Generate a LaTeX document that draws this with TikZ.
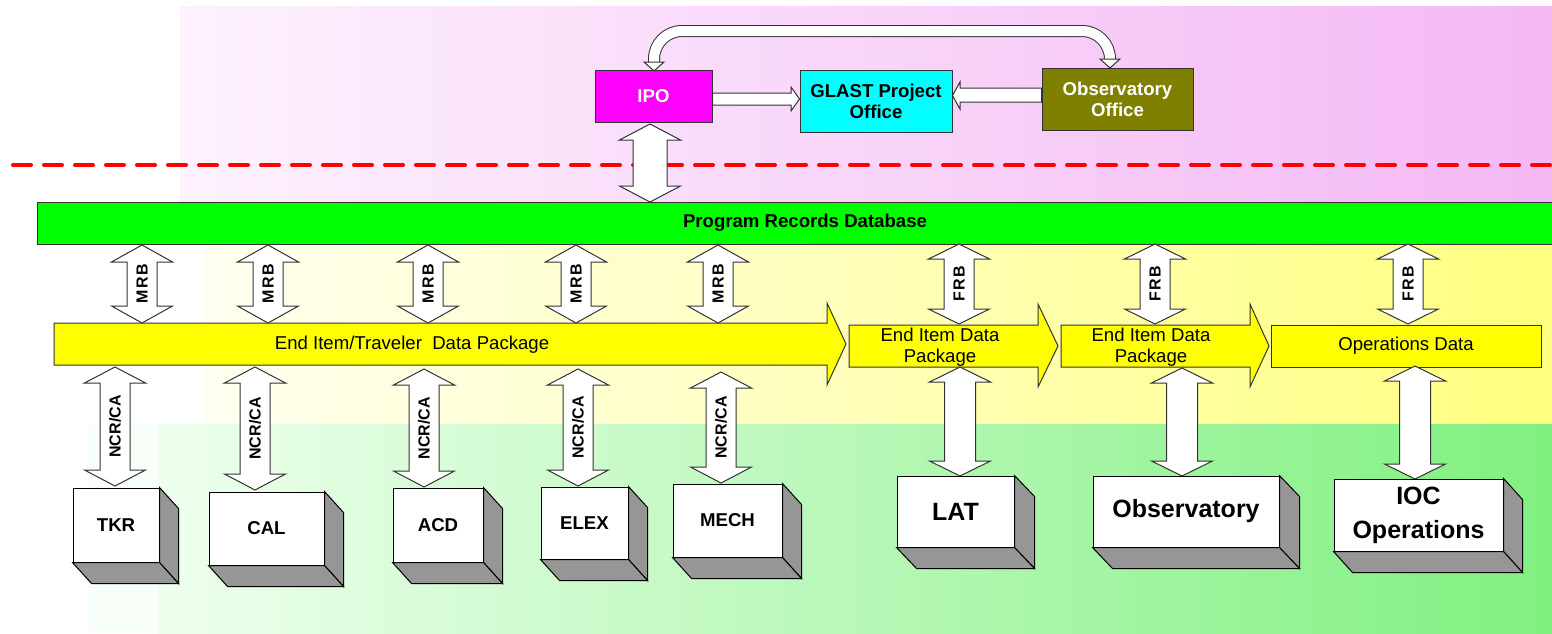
\documentclass[tikz,border=0pt]{standalone}
\usepackage{fontspec}
\setmainfont{Liberation Sans}
\usetikzlibrary{calc}
\definecolor{pinkL}{HTML}{FDF2FD}
\definecolor{pinkR}{HTML}{F4B8F4}
\definecolor{yelL}{HTML}{FFFFF0}
\definecolor{yelR}{HTML}{FFFF80}
\definecolor{grnL}{HTML}{EEFFEE}
\definecolor{grnR}{HTML}{80F080}
\definecolor{grn0}{HTML}{F8FFF8}
\definecolor{faceg}{HTML}{969696}
\definecolor{olv}{HTML}{808000}
\definecolor{edge}{HTML}{333333}
\definecolor{dbgreen}{HTML}{00FF00}
\definecolor{ipomag}{HTML}{FF00FF}
\definecolor{glcyan}{HTML}{00FFFF}
\definecolor{pkyel}{HTML}{FFFF00}
\definecolor{dashred}{HTML}{FF0000}

\tikzset{
  blk/.style={draw=edge, fill=white, line width=0.5pt},
  lbl/.style={font=\fontsize{8}{9}\selectfont\bfseries, inner sep=0pt},
  mainb/.style={font=\fontsize{9.3}{10.5}\selectfont\bfseries, align=center},
  plain/.style={font=\fontsize{9.3}{10.5}\selectfont, align=center, inner sep=0pt},
  topbox/.style={draw=edge, line width=0.5pt, inner sep=0pt, align=center, font=\fontsize{9.3}{10.5}\selectfont\bfseries},
  front/.style={draw=black, fill=white, line width=0.5pt, inner sep=0pt, align=center},
  face/.style={draw=black, fill=faceg, line width=0.5pt},
  yarrow/.style={draw=edge, fill=pkyel, line width=0.5pt},
}

\newcommand\VShape[6]{%
  \draw[blk] ({#1-#4},{#2+#6}) -- ({#1-#5},{#2+#6}) -- (#1,#2) -- ({#1+#5},{#2+#6}) -- ({#1+#4},{#2+#6})
   -- ({#1+#4},{#3-#6}) -- ({#1+#5},{#3-#6}) -- (#1,#3) -- ({#1-#5},{#3-#6}) -- ({#1-#4},{#3-#6}) -- cycle;}
\newcommand\VArr[7]{%
  \VShape{#1}{#2}{#3}{#4}{#5}{#6}%
  \node[lbl, rotate=90] at (#1,{(#2+#3)/2}) {#7};}
\newcommand\mkbox[8]{% name, cx, cy, w, h, depth x, font, text
  \node[front, minimum width=#4*0.5pt, minimum height=#5*0.5pt, font=#7] (#1) at (#2,#3) {#8};
  \draw[face] (#1.north east) -- ++(#6,21) -- ($(#1.south east)+(#6,21)$) -- (#1.south east) -- cycle;
  \draw[face] (#1.south west) -- (#1.south east) -- ++(#6,21) -- ($(#1.south west)+(#6,21)$) -- cycle;}

\begin{document}
\begin{tikzpicture}[x=0.5pt,y=-0.5pt]
\useasboundingbox (0,0) rectangle (1552,633);
\fill[white] (0,0) rectangle (1552,633);
% background bands
\shade[left color=pinkL, right color=pinkR] (180,6) rectangle (1552,223);
\shade[left color=yelL, right color=yelR] (205,223) rectangle (1552,424);
\fill[grn0] (88,424) rectangle (158,633);
\shade[left color=grnL, right color=grnR] (158,424) rectangle (1552,633);

% dashed boundary
\draw[dashred, line width=2pt, line cap=round, dash pattern=on 9pt off 6.5pt] (13,165) -- (1552,165);

% top organisation boxes
\node[topbox, fill=ipomag, text=white, minimum width=58.5pt, minimum height=26pt] (ipo) at (653.5,96) {IPO};
\node[topbox, fill=glcyan, minimum width=76pt, minimum height=31pt] (glast) at (876,101) {GLAST Project\\Office};
\node[topbox, fill=olv, text=white, minimum width=75.5pt, minimum height=31pt] (obso) at (1117.5,99) {Observatory\\Office};

% curved double arrow IPO <-> Observatory Office
\draw[draw=edge, line width=0.5pt, double=white, double distance=5pt, rounded corners=14pt]
  (654,63) -- (654,31) -- (1110,31) -- (1110,60);
\draw[blk] (644,62) -- (664,62) -- (654,71) -- cycle;
\draw[blk] (1100,59) -- (1120,59) -- (1110,68) -- cycle;

% IPO -> GLAST, Observatory Office -> GLAST
\draw[blk] (ipo.east |- 0,93) -- (791,93) -- (791,87) -- (glast.west |- 0,99) -- (791,111) -- (791,105) -- (ipo.east |- 0,105) -- cycle;
\draw[blk] (obso.west |- 0,88) -- (960,88) -- (960,82) -- (glast.east |- 0,95.5) -- (960,109) -- (960,102) -- (obso.west |- 0,102) -- cycle;

% database bar
\node[draw=edge, fill=dbgreen, line width=0.5pt, minimum width=762pt, minimum height=21pt, inner sep=0pt] (db) at (799.5,223) {};
\node[mainb, inner sep=0pt] (dbt) at (805,223) {Program Records Database};

% IPO <-> database
\VShape{650}{124}{202}{17}{30.5}{16}

% data package arrows
\draw[yarrow] (54,323) -- (827,323) -- (827,303) -- (846,344) -- (827,385) -- (827,365) -- (54,365) -- cycle;
\draw[yarrow] (849,325) -- (1038,325) -- (1038,304) -- (1058,346) -- (1038,387) -- (1038,367) -- (849,367) -- cycle;
\draw[yarrow] (1061,325) -- (1250,325) -- (1250,304) -- (1269,346) -- (1250,387) -- (1250,367) -- (1061,367) -- cycle;
\node[yarrow, minimum width=135pt, minimum height=21pt, inner sep=0pt] (ops) at (1406,346) {};

% MRB / FRB arrows
\VArr{142}{245}{323}{15}{30.5}{17}{M\kern0.7pt R\kern0.7pt B}
\VArr{268}{245}{323}{15}{30.5}{17}{M\kern0.7pt R\kern0.7pt B}
\VArr{428}{245}{323}{15}{30.5}{17}{M\kern0.7pt R\kern0.7pt B}
\VArr{576}{245}{323}{15}{30.5}{17}{M\kern0.7pt R\kern0.7pt B}
\VArr{718}{245}{323}{15}{30.5}{17}{M\kern0.7pt R\kern0.7pt B}
\VArr{959}{244}{324}{15}{30.5}{15}{F\kern0.7pt R\kern0.7pt B}
\VArr{1155}{244}{324}{15}{30.5}{15}{F\kern0.7pt R\kern0.7pt B}
\VArr{1408}{244}{324}{15}{30.5}{15}{F\kern0.7pt R\kern0.7pt B}

% NCR/CA arrows
\VArr{115}{367}{486}{15}{30.5}{16}{NCR/CA}
\VArr{255}{367}{490}{15}{30.5}{16}{NCR/CA}
\VArr{424}{369}{487}{15}{30.5}{16}{NCR/CA}
\VArr{578}{369}{486}{15}{30.5}{16}{NCR/CA}
\VArr{721}{372}{483}{15}{30.5}{16}{NCR/CA}

% arrows to LAT / Observatory / IOC
\VShape{960}{367}{476}{15.5}{30.5}{15}
\VShape{1182}{368}{476}{15.5}{30.5}{15}
\VShape{1415}{366}{479}{15.5}{30.5}{15}

% data package texts
\node[plain] (t1) at (412,345) {End Item/Traveler\ \ Data Package};
\node[plain] (t2) at (940,347.5) {End Item Data\\Package};
\node[plain] (t3) at (1151,347.5) {End Item Data\\Package};
\node[plain] (t4) at (1406,346) {Operations Data};

% 3D boxes
\mkbox{tkr}{116}{525}{86}{74}{19}{\fontsize{9.3}{10.5}\selectfont\bfseries}{TKR}
\mkbox{cal}{266.5}{528.5}{115}{73}{19}{\fontsize{9.3}{10.5}\selectfont\bfseries}{CAL}
\mkbox{acd}{438}{525}{90}{74}{19}{\fontsize{9.3}{10.5}\selectfont\bfseries}{ACD}
\mkbox{elex}{584.5}{523}{87}{72}{19}{\fontsize{9.3}{10.5}\selectfont\bfseries}{ELEX}
\mkbox{mech}{727.5}{520.5}{109}{73}{19}{\fontsize{9.3}{10.5}\selectfont\bfseries}{MECH}
\mkbox{lat}{955.5}{511.5}{117}{71}{20}{\fontsize{12.5}{17}\selectfont\bfseries}{LAT}
\mkbox{obs}{1186}{511.5}{186}{71}{20}{\fontsize{12.5}{17}\selectfont\bfseries}{Observatory}
\mkbox{ioc}{1418.5}{515}{169}{72}{19}{\fontsize{12.5}{17}\selectfont\bfseries}{IOC\\Operations}
\end{tikzpicture}
\end{document}
